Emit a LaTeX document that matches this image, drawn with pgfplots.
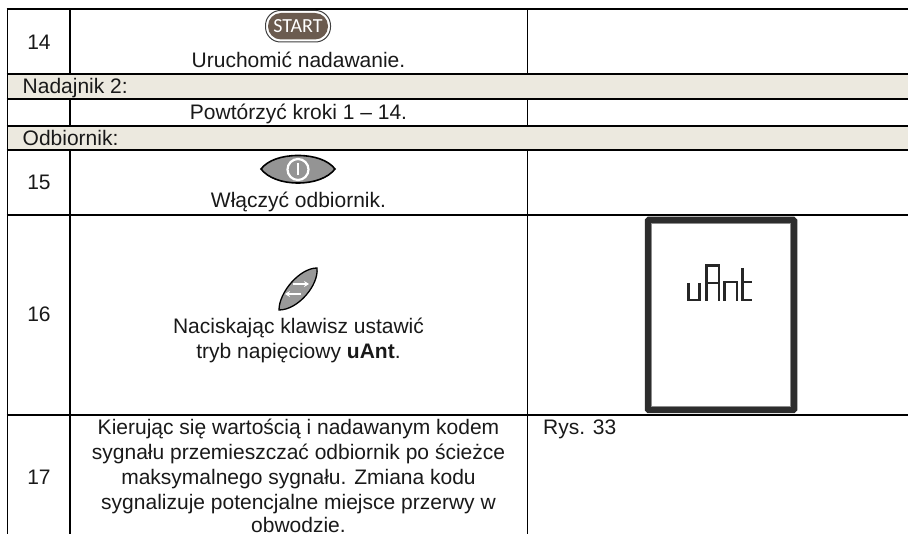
\documentclass[border=0pt]{standalone}
\usepackage{pgfplots}
\usepackage{fontspec}
\usetikzlibrary{arrows.meta}
\setmainfont{Liberation Sans}
\newfontfamily\btnfont{Carlito}
\pgfplotsset{compat=1.18}
\definecolor{band}{HTML}{ECE9DF}
\definecolor{startc}{HTML}{6B5B4F}
\definecolor{frame}{HTML}{2D2D2D}
\tikzset{T/.style={font=\fontsize{21}{24}\selectfont,inner sep=0pt,text=black!90}}
\begin{document}
\begin{tikzpicture}
\begin{axis}[scale only axis,width=908pt,height=534pt,xmin=0,xmax=908,ymin=0,ymax=534,y dir=reverse,hide axis]
\addplot[fill=white,draw=none] coordinates {(0,0)(908,0)(908,534)(0,534)};
% bands
\addplot[fill=band,draw=none] coordinates {(7,74)(908,74)(908,99)(7,99)};
\addplot[fill=band,draw=none] coordinates {(7,126)(908,126)(908,150)(7,150)};
% horizontal rules
\pgfplotsinvokeforeach{9,74,99.3,125.7,150.3,215,414.7}{
  \addplot[black,line width=1.7pt] coordinates {(6.6,#1)(908,#1)};
}
% vertical rules
\addplot[black,line width=1.7pt] coordinates {(7.5,9)(7.5,534)};
\addplot[black,line width=1.7pt] coordinates {(70,9)(70,74)};
\addplot[black,line width=1.7pt] coordinates {(70,99)(70,126)};
\addplot[black,line width=1.7pt] coordinates {(70,150)(70,534)};
\addplot[black,line width=1.7pt] coordinates {(527.5,9)(527.5,74)};
\addplot[black,line width=1.7pt] coordinates {(527.5,99)(527.5,126)};
\addplot[black,line width=1.7pt] coordinates {(527.5,150)(527.5,534)};
% START button
\draw[fill=white,draw=black!75,line width=1pt,rounded corners=15pt] (axis cs:265.5,10.5) rectangle (axis cs:330.5,42);
\fill[startc,rounded corners=13pt] (axis cs:268,13) rectangle (axis cs:328,39.5);
\node[text=white,inner sep=0pt,font=\btnfont\fontsize{20}{22}\selectfont] at (axis cs:298,26) {START};
% power button
\filldraw[fill=black!42,draw=black,line width=1.6pt] (axis cs:261,169) .. controls (axis cs:268,160) and (axis cs:282,155.5) .. (axis cs:298,155.5) .. controls (axis cs:314,155.5) and (axis cs:328,160) .. (axis cs:335,169) .. controls (axis cs:328,178) and (axis cs:314,183) .. (axis cs:298,183) .. controls (axis cs:282,183) and (axis cs:268,178) .. (axis cs:261,169) -- cycle;
\draw[white,line width=2.2pt] (axis cs:298,169.5) circle [radius=10.5pt];
\addplot[white,line width=2.6pt] coordinates {(298,163.5)(298,175.5)};
% key 16
\filldraw[fill=black!40,draw=black,line width=1.3pt] (axis cs:279,310) .. controls (axis cs:279,292) and (axis cs:300,268) .. (axis cs:317,268) .. controls (axis cs:319,285) and (axis cs:298,310) .. (axis cs:279,310) -- cycle;
\addplot[white,line width=1.8pt,-{Stealth[length=5pt,width=6pt]}] coordinates {(293,284)(309,284)};
\addplot[white,line width=1.8pt,-{Stealth[length=5pt,width=6pt]}] coordinates {(301,294)(285,294)};
% LCD frame
\draw[frame,line width=6.5pt,rounded corners=1pt] (axis cs:648,220) rectangle (axis cs:794,410);
\draw[black!45,line width=0.6pt] (axis cs:651.5,223.5) rectangle (axis cs:790.5,406.5);
% uAnt segments
\addplot[black!85,line width=2.6pt,line join=miter] coordinates {(688.5,283)(688.5,300)(699.5,300)(699.5,283)};
\addplot[black!85,line width=2.6pt] coordinates {(706.5,301)(706.5,265.5)(719,265.5)(719,301)};
\addplot[black!85,line width=2.6pt] coordinates {(706.5,283)(719,283)};
\addplot[black!85,line width=2.6pt] coordinates {(724.5,301)(724.5,282)(737,282)(737,301)};
\addplot[black!85,line width=2.6pt] coordinates {(742.5,268)(742.5,300)(752,300)};
\addplot[black!85,line width=2.6pt] coordinates {(742.5,282)(752,282)};
% text
\node[T,anchor=base] at (axis cs:39,50) {14};
\node[T,anchor=base] at (axis cs:298.5,68) {Uruchomić nadawanie.};
\node[T,anchor=base west] at (axis cs:22.5,93.5) {Nadajnik 2:};
\node[T,anchor=base] at (axis cs:298.5,120) {Powtórzyć kroki 1 – 14.};
\node[T,anchor=base west] at (axis cs:22.5,145.5) {Odbiornik:};
\node[T,anchor=base] at (axis cs:39,190) {15};
\node[T,anchor=base] at (axis cs:298.5,208) {Włączyć odbiornik.};
\node[T,anchor=base] at (axis cs:39,322) {16};
\node[T,anchor=base] at (axis cs:298.5,334) {Naciskając klawisz ustawić};
\node[T,anchor=base] at (axis cs:298.5,359) {tryb napięciowy \textbf{uAnt}.};
\node[T,anchor=base] at (axis cs:39,485) {17};
\node[T,anchor=base] at (axis cs:298.5,435) {Kierując się wartością i nadawanym kodem};
\node[T,anchor=base] at (axis cs:298.5,460) {sygnału przemieszczać odbiornik po ścieżce};
\node[T,anchor=base] at (axis cs:298.5,485) {maksymalnego sygnału. Zmiana kodu};
\node[T,anchor=base] at (axis cs:298.5,509) {sygnalizuje potencjalne miejsce przerwy w};
\node[T,anchor=base] at (axis cs:298.5,532) {obwodzie.};
\node[T,anchor=base west] at (axis cs:543,435) {Rys. 33};
\end{axis}
\end{tikzpicture}
\end{document}
